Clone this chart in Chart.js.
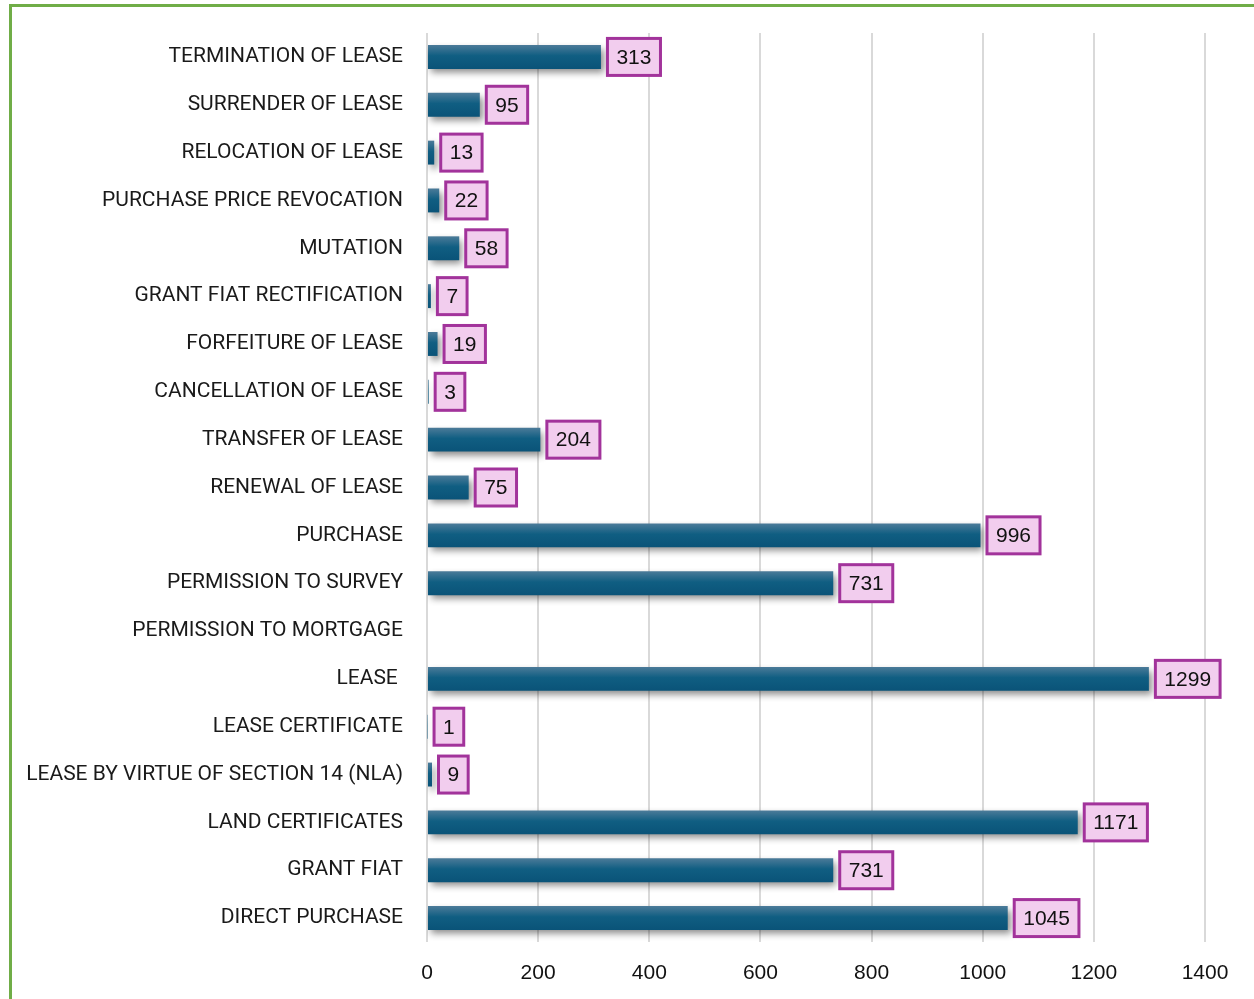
<!DOCTYPE html>
<html>
<head>
<meta charset="utf-8">
<script src="https://cdn.jsdelivr.net/npm/chart.js@4"></script>
<style>
  html, body { margin: 0; padding: 0; background: #ffffff; overflow: hidden; }
  #wrap { position: relative; width: 1254px; height: 999px; overflow: hidden; }
  #frame { position: absolute; left: 9px; top: 4px; width: 1400px; height: 1200px; border: 3px solid #70ad47; box-sizing: border-box; }
  canvas { position: absolute; left: 0; top: 0; }
</style>
</head>
<body>
<div id="wrap">
  <div id="frame"></div>
  <canvas id="c" width="1254" height="999"></canvas>
</div>
<script>
const categories = [
  "TERMINATION OF LEASE",
  "SURRENDER OF LEASE",
  "RELOCATION OF LEASE",
  "PURCHASE PRICE REVOCATION",
  "MUTATION",
  "GRANT FIAT RECTIFICATION",
  "FORFEITURE OF LEASE",
  "CANCELLATION OF LEASE",
  "TRANSFER OF LEASE",
  "RENEWAL OF LEASE",
  "PURCHASE",
  "PERMISSION TO SURVEY",
  "PERMISSION TO MORTGAGE",
  "LEASE ",
  "LEASE CERTIFICATE",
  "LEASE BY VIRTUE OF SECTION 14 (NLA)",
  "LAND CERTIFICATES",
  "GRANT FIAT",
  "DIRECT PURCHASE"
];
const counts = [313, 95, 13, 22, 58, 7, 19, 3, 204, 75, 996, 731, null, 1299, 1, 9, 1171, 731, 1045];
const xTicks = { min: 0, max: 1400, step: 200 };

const barShadow = {
  id: 'barShadow',
  beforeDatasetsDraw(chart) {
    const ctx = chart.ctx;
    ctx.save();
    ctx.shadowColor = 'rgba(0,0,0,0.45)';
    ctx.shadowBlur = 7;
    ctx.shadowOffsetX = 3;
    ctx.shadowOffsetY = 4;
  },
  afterDatasetsDraw(chart) {
    chart.ctx.restore();
  }
};

const boxLabels = {
  id: 'boxLabels',
  afterDatasetsDraw(chart) {
    const ctx = chart.ctx;
    const meta = chart.getDatasetMeta(0);
    ctx.save();
    ctx.font = '21px "Liberation Sans", Arial, sans-serif';
    ctx.textAlign = 'center';
    ctx.textBaseline = 'middle';
    meta.data.forEach((bar, i) => {
      const v = chart.data.datasets[0].data[i];
      if (v === null || v === undefined) return;
      const txt = String(v);
      const tw = ctx.measureText(txt).width;
      const w = tw + 18;
      const h = 37;
      const x0 = bar.x + 6.5;
      const y0 = bar.y - h / 2;
      ctx.fillStyle = '#f2cdee';
      ctx.fillRect(x0, y0, w, h);
      ctx.lineWidth = 3;
      ctx.strokeStyle = '#a2339b';
      ctx.strokeRect(x0, y0, w, h);
      ctx.fillStyle = '#111111';
      ctx.fillText(txt, x0 + w / 2, bar.y + 1);
    });
    ctx.restore();
  }
};

const xLabels = {
  id: 'xLabels',
  afterDraw(chart) {
    const ctx = chart.ctx;
    const sx = chart.scales.x;
    ctx.save();
    ctx.font = '21px "Liberation Sans", Arial, sans-serif';
    ctx.fillStyle = '#111111';
    ctx.textAlign = 'center';
    ctx.textBaseline = 'middle';
    sx.ticks.forEach(t => {
      const px = sx.getPixelForValue(t.value);
      ctx.fillText(String(t.value), px, 973);
    });
    ctx.restore();
  }
};

new Chart(document.getElementById('c'), {
  type: 'bar',
  data: {
    labels: categories,
    datasets: [{
      data: counts,
      backgroundColor: (c) => {
        const chart = c.chart;
        if (!chart.chartArea || c.type !== 'data') return '#0e5c80';
        const yc = chart.scales.y.getPixelForValue(c.dataIndex);
        const g = chart.ctx.createLinearGradient(0, yc - 12, 0, yc + 12);
        g.addColorStop(0, '#4c7b99');
        g.addColorStop(0.45, '#105e82');
        g.addColorStop(1, '#0a5378');
        return g;
      },
      borderWidth: 0,
      barPercentage: 0.5,
      categoryPercentage: 1.0
    }]
  },
  options: {
    indexAxis: 'y',
    responsive: false,
    devicePixelRatio: 1,
    animation: false,
    layout: { padding: { top: 33, right: 49, bottom: 0, left: 0 } },
    plugins: { legend: { display: false }, tooltip: { enabled: false } },
    scales: {
      x: {
        min: xTicks.min,
        max: xTicks.max,
        ticks: { stepSize: xTicks.step, display: false },
        grid: { color: '#d9d9d9', lineWidth: 2, drawTicks: false },
        border: { display: false },
        afterFit: (s) => { s.height = 57; s.paddingLeft = 0; s.paddingRight = 0; }
      },
      y: {
        grid: { display: false, drawTicks: false },
        border: { display: false },
        ticks: {
          padding: 24,
          color: '#1a1a1a',
          font: { family: 'Roboto', size: 21 }
        },
        afterFit: (s) => { s.width = 427; s.paddingTop = 0; s.paddingBottom = 0; }
      }
    }
  },
  plugins: [barShadow, boxLabels, xLabels]
});
</script>
</body>
</html>
